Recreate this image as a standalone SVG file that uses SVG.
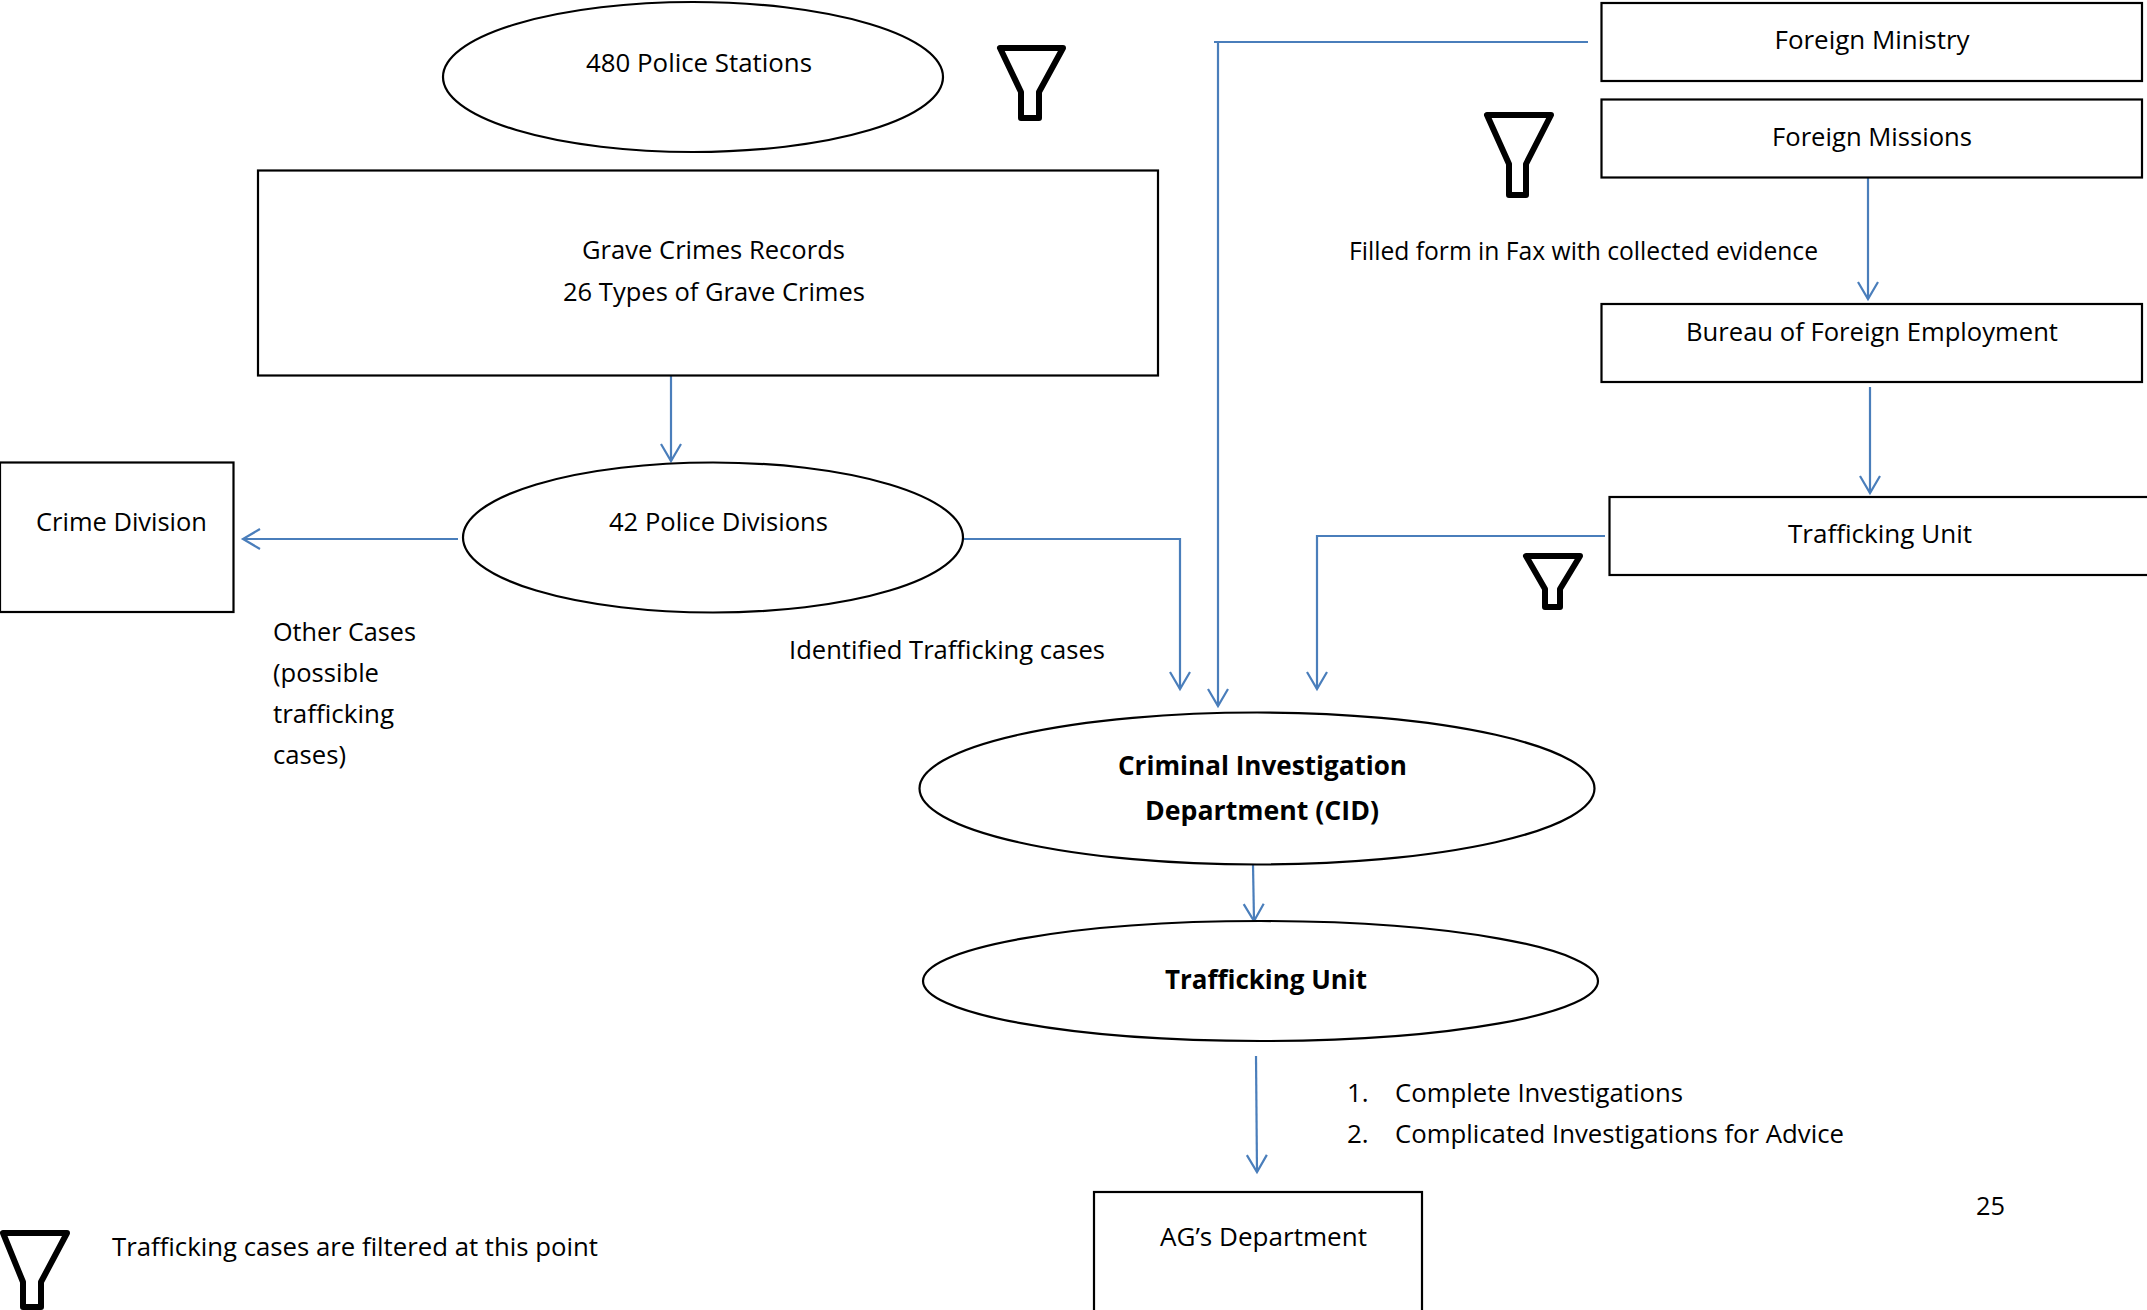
<svg xmlns="http://www.w3.org/2000/svg" width="2147" height="1310" viewBox="0 0 2147 1310">
<style>
text{font-family:"Open Sans","Liberation Sans",sans-serif;font-size:26px;fill:#000}
.b{font-weight:700;font-size:27px}
.n{fill:#fff;stroke:#000;stroke-width:2.2}
.c{fill:none;stroke:#4a7ebb;stroke-width:2.2;marker-end:url(#a)}
.l{fill:none;stroke:#4a7ebb;stroke-width:2.2}
.f{fill:#fff;stroke:#000;stroke-width:6;stroke-linejoin:round}
</style>
<defs>
<marker id="a" markerUnits="userSpaceOnUse" markerWidth="24" markerHeight="24" viewBox="-20 -12 24 24" refX="0" refY="0" orient="auto"><path d="M-17,-10 L0,0 L-17,10" fill="none" stroke="#4a7ebb" stroke-width="2.2"/></marker>
</defs>
<g id="connectors">
<path class="c" d="M671,376V461"/>
<path class="c" d="M458,539H243"/>
<path class="c" d="M964,539H1180V689"/>
<path class="l" d="M1588,42H1214"/>
<path class="c" d="M1218,42V706"/>
<path class="c" d="M1605,536H1317V689"/>
<path class="c" d="M1868,178V299"/>
<path class="c" d="M1870,387V493"/>
<path class="c" d="M1253,864L1254,921"/>
<path class="c" d="M1256,1056L1257,1172"/>
</g>
<g id="police-stations"><ellipse class="n" cx="693" cy="77" rx="250" ry="75"/><text x="586" y="72" textLength="226" lengthAdjust="spacingAndGlyphs">480 Police Stations</text></g>
<g id="grave-crimes"><rect class="n" x="258" y="170.500" width="900" height="205"/><text x="582" y="259" textLength="263" lengthAdjust="spacingAndGlyphs">Grave Crimes Records</text><text x="563" y="301" textLength="302" lengthAdjust="spacingAndGlyphs">26 Types of Grave Crimes</text></g>
<g id="police-divisions"><ellipse class="n" cx="713" cy="537.500" rx="250" ry="75"/><text x="609" y="531" textLength="219" lengthAdjust="spacingAndGlyphs">42 Police Divisions</text></g>
<g id="crime-division"><rect class="n" x="0" y="462.500" width="233.500" height="149.500"/><text x="36" y="531" textLength="171" lengthAdjust="spacingAndGlyphs">Crime Division</text></g>
<g id="cid"><ellipse class="n" cx="1257" cy="788.500" rx="337.500" ry="76"/><text class="b" x="1118" y="775" textLength="289" lengthAdjust="spacingAndGlyphs">Criminal Investigation</text><text class="b" x="1145" y="820" textLength="234" lengthAdjust="spacingAndGlyphs">Department (CID)</text></g>
<g id="trafficking-unit-ellipse"><ellipse class="n" cx="1260.500" cy="981" rx="337.500" ry="60"/><text class="b" x="1165" y="989" textLength="202" lengthAdjust="spacingAndGlyphs">Trafficking Unit</text></g>
<g id="ag"><rect class="n" x="1094" y="1192" width="328" height="125"/><text x="1160" y="1246" textLength="207" lengthAdjust="spacingAndGlyphs">AG’s Department</text></g>
<g id="foreign-ministry"><rect class="n" x="1601.500" y="3" width="540.500" height="78"/><text x="1774.500" y="49" textLength="195" lengthAdjust="spacingAndGlyphs">Foreign Ministry</text></g>
<g id="foreign-missions"><rect class="n" x="1601.500" y="99.500" width="540.500" height="78"/><text x="1772" y="146" textLength="200" lengthAdjust="spacingAndGlyphs">Foreign Missions</text></g>
<g id="bureau"><rect class="n" x="1601.500" y="304" width="540.500" height="78"/><text x="1686" y="341" textLength="372" lengthAdjust="spacingAndGlyphs">Bureau of Foreign Employment</text></g>
<g id="trafficking-unit-box"><rect class="n" x="1609.500" y="497" width="545" height="78"/><text x="1788" y="543" textLength="184" lengthAdjust="spacingAndGlyphs">Trafficking Unit</text></g>
<g id="funnels">
<path class="f" d="M1000,48H1063L1039,92V118H1021V92Z"/>
<path class="f" d="M1487,115H1551L1526,164V195H1509V164Z"/>
<path class="f" d="M1526,556H1580L1560,589V607H1545V589Z"/>
<path class="f" d="M3,1233H67L41,1282V1307H23V1282Z"/>
</g>
<g id="labels">
<text x="1349" y="260" textLength="469" lengthAdjust="spacingAndGlyphs">Filled form in Fax with collected evidence</text>
<text x="273" y="641" textLength="143" lengthAdjust="spacingAndGlyphs">Other Cases</text>
<text x="273" y="682" textLength="106" lengthAdjust="spacingAndGlyphs">(possible</text>
<text x="273" y="723" textLength="121" lengthAdjust="spacingAndGlyphs">trafficking</text>
<text x="273" y="764" textLength="73" lengthAdjust="spacingAndGlyphs">cases)</text>
<text x="789" y="659" textLength="316" lengthAdjust="spacingAndGlyphs">Identified Trafficking cases</text>
<text x="1347" y="1102">1.</text>
<text x="1395" y="1102" textLength="288" lengthAdjust="spacingAndGlyphs">Complete Investigations</text>
<text x="1347" y="1143">2.</text>
<text x="1395" y="1143" textLength="449" lengthAdjust="spacingAndGlyphs">Complicated Investigations for Advice</text>
<text x="1976" y="1215" textLength="29" lengthAdjust="spacingAndGlyphs">25</text>
<text x="112" y="1256" textLength="486" lengthAdjust="spacingAndGlyphs">Trafficking cases are filtered at this point</text>
</g>
</svg>
